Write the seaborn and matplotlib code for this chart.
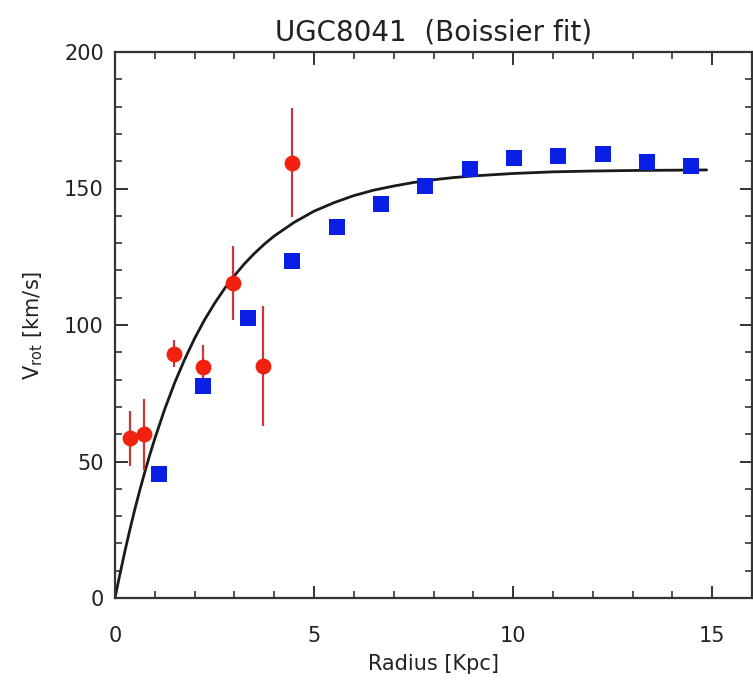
import matplotlib
matplotlib.use("Agg")
import matplotlib.pyplot as plt
from matplotlib.ticker import MultipleLocator
import seaborn as sns
import pandas as pd

# H-alpha (red) rotation points with velocity errors
ha_radius = [0.37, 0.74, 1.48, 2.22, 2.97, 3.71, 4.45]
ha_vrot = [58.5, 60.0, 89.5, 84.5, 115.5, 85.0, 159.5]
ha_err = [10.0, 13.0, 5.0, 8.0, 13.5, 22.0, 20.0]

# HI (blue) rotation curve
hi_radius = [1.11, 2.22, 3.34, 4.45, 5.57, 6.68, 7.79, 8.91, 10.02, 11.13, 12.25, 13.36, 14.47]
hi_vrot = [45.5, 77.5, 102.7, 123.5, 136.0, 144.5, 151.0, 157.0, 161.3, 161.9, 162.5, 159.8, 158.4]

# Boissier model curve sampled along radius
fit_radius = [0.0, 0.1, 0.25, 0.375, 0.5, 0.625, 0.75, 0.875, 1.0, 1.25, 1.5, 1.75, 2.0,
              2.25, 2.5, 2.75, 3.0, 3.25, 3.5, 3.75, 4.0, 4.5, 5.0, 5.5, 6.0, 6.5, 7.0,
              7.5, 8.0, 8.5, 9.0, 10.0, 11.0, 12.0, 13.0, 14.86]
fit_vrot = [0.0, 7.1, 17.2, 25.1, 32.6, 39.6, 46.2, 52.5, 58.4, 69.2, 78.9, 87.4, 95.1,
            101.9, 107.9, 113.3, 118.1, 122.4, 126.2, 129.6, 132.6, 137.6, 141.7, 144.8,
            147.4, 149.4, 150.9, 152.2, 153.2, 154.0, 154.6, 155.5, 156.1, 156.4, 156.6,
            156.8]

x_ticks = [0, 5, 10, 15]
y_ticks = [0, 50, 100, 150, 200]

sns.set_theme(style="ticks")
plt.rcParams["font.family"] = ["DejaVu Sans"]

fig = plt.figure(figsize=(7.53, 6.83), dpi=100)
ax = fig.add_axes([115 / 753, 1 - 598 / 683, 637 / 753, (598 - 52) / 683])

fit_df = pd.DataFrame({"r": fit_radius, "v": fit_vrot})
sns.lineplot(data=fit_df, x="r", y="v", ax=ax, color="#1a1a1a", linewidth=2.0,
             sort=False, zorder=2)

ax.errorbar(ha_radius, ha_vrot, yerr=ha_err, fmt="none", ecolor="#c8383a",
            elinewidth=1.6, capsize=0, zorder=3)

hi_df = pd.DataFrame({"r": hi_radius, "v": hi_vrot})
sns.scatterplot(data=hi_df, x="r", y="v", ax=ax, marker="s", s=125,
                color="#0a1fe6", edgecolor="#0a1fe6", linewidth=0, zorder=4)

ha_df = pd.DataFrame({"r": ha_radius, "v": ha_vrot})
sns.scatterplot(data=ha_df, x="r", y="v", ax=ax, marker="o", s=130,
                color="#f2200f", edgecolor="#f2200f", linewidth=0, zorder=5)

ax.set_xlim(0, 16)
ax.set_ylim(0, 200)
ax.set_xticks(x_ticks)
ax.set_yticks(y_ticks)
ax.xaxis.set_minor_locator(MultipleLocator(1))
ax.yaxis.set_minor_locator(MultipleLocator(10))

for side in ["left", "right", "top", "bottom"]:
    ax.spines[side].set_visible(True)
    ax.spines[side].set_color("#333333")
    ax.spines[side].set_linewidth(1.6)

ax.tick_params(which="both", direction="in", top=True, right=True, color="#333333",
               labelcolor="#222222", labelsize=15)
ax.tick_params(which="major", length=9, width=1.4)
ax.tick_params(which="minor", length=5, width=1.2)
ax.tick_params(axis="x", which="major", pad=20)
ax.tick_params(axis="y", which="major", pad=8)

ax.set_xlabel("Radius [Kpc]", fontsize=15, color="#222222", labelpad=6)
ax.set_ylabel(r"V$_{\rm rot}$ [km/s]", fontsize=15, color="#222222", labelpad=14)
ax.set_title("UGC8041  (Boissier fit)", fontsize=20, color="#222222", pad=8)

fig.savefig("out.png", dpi=100, facecolor="white")
